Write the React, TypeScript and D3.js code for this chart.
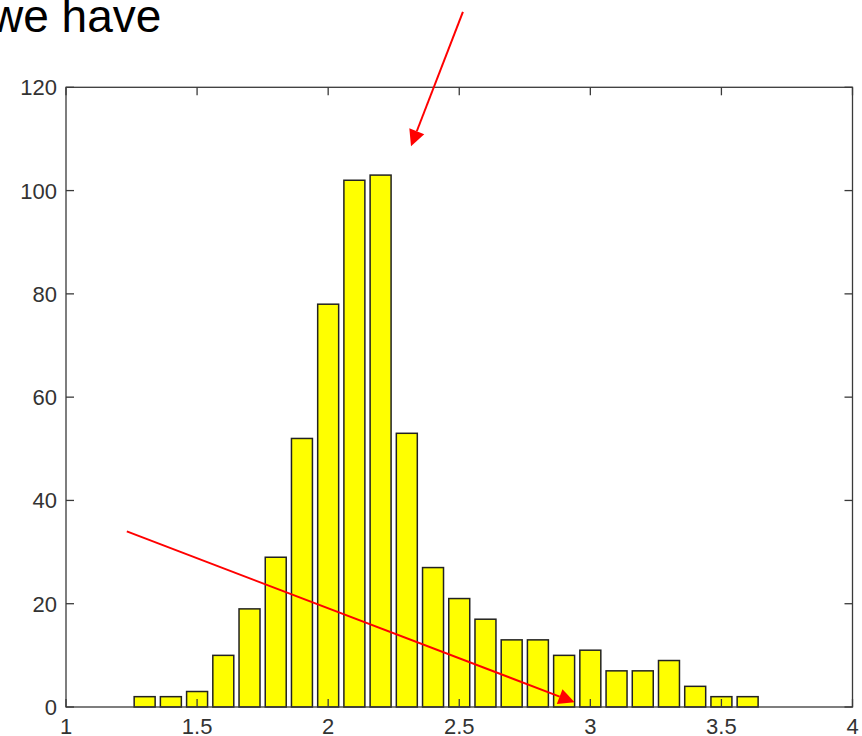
import React from "react";
import * as d3 from "d3";

// ---- data ----
const binCenters = [1.3, 1.4, 1.5, 1.6, 1.7, 1.8, 1.9, 2.0, 2.1, 2.2, 2.3, 2.4, 2.5, 2.6, 2.7, 2.8, 2.9, 3.0, 3.1, 3.2, 3.3, 3.4, 3.5, 3.6];
const counts = [2, 2, 3, 10, 19, 29, 52, 78, 102, 103, 53, 27, 21, 17, 13, 13, 10, 11, 7, 7, 9, 4, 2, 2];
const xTicks = [1, 1.5, 2, 2.5, 3, 3.5, 4];
const yTicks = [0, 20, 40, 60, 80, 100, 120];
const titleText = "we have";
// arrows in data coordinates: [x1, y1, x2(tip), y2(tip)]
const arrowStarts = [
  [2.514, 134.6],
  [1.232, 34.0],
];
const arrowTips = [
  [2.316, 108.6],
  [2.94, 0.9],
];

const W = 862;
const H = 736;
const left = 66;
const right = 852.5;
const top = 87.3;
const bottom = 707;
const binWidth = 0.1;
const barFrac = 0.8;

export default function App() {
  const x = d3.scaleLinear().domain([1, 4]).range([left, right]);
  const y = d3.scaleLinear().domain([0, 120]).range([bottom, top]);
  const tickLen = 8;
  const axisColor = "#3a3a3a";
  const font = "'Liberation Sans', Arial, Helvetica, sans-serif";

  const arrows = arrowStarts.map((s, i) => {
    const x1 = x(s[0]);
    const y1 = y(s[1]);
    const x2 = x(arrowTips[i][0]);
    const y2 = y(arrowTips[i][1]);
    const ang = Math.atan2(y2 - y1, x2 - x1);
    const hl = 16;
    const hw = 8;
    const bx = x2 - hl * Math.cos(ang);
    const by = y2 - hl * Math.sin(ang);
    const px = -Math.sin(ang) * hw;
    const py = Math.cos(ang) * hw;
    return { x1, y1, bx, by, x2, y2, pts: `${x2},${y2} ${bx + px},${by + py} ${bx - px},${by - py}` };
  });

  return (
    <svg
      width={W}
      height={H}
      style={{ position: "absolute", left: 0, top: 0, background: "#fff" }}
    >
      <rect x={0} y={0} width={W} height={H} fill="#fff" />
      <text x={-10} y={32} fontFamily={font} fontSize={46} fill="#000">
        {titleText}
      </text>

      {/* bars */}
      {binCenters.map((c, i) => (
        <rect
          key={i}
          x={x(c - (binWidth * barFrac) / 2)}
          y={y(counts[i])}
          width={x(c + (binWidth * barFrac) / 2) - x(c - (binWidth * barFrac) / 2)}
          height={y(0) - y(counts[i])}
          fill="#ffff00"
          stroke="#222"
          strokeWidth={1.5}
        />
      ))}

      {/* box */}
      <rect
        x={left}
        y={top}
        width={right - left}
        height={bottom - top}
        fill="none"
        stroke={axisColor}
        strokeWidth={1.3}
      />

      {/* x ticks */}
      {xTicks.map((t) => (
        <g key={"x" + t}>
          <line x1={x(t)} x2={x(t)} y1={bottom} y2={bottom - tickLen} stroke={axisColor} strokeWidth={1.3} />
          <line x1={x(t)} x2={x(t)} y1={top} y2={top + tickLen} stroke={axisColor} strokeWidth={1.3} />
          <text
            x={x(t)}
            y={734}
            textAnchor="middle"
            fontFamily={font}
            fontSize={22}
            fill="#333"
          >
            {String(t)}
          </text>
        </g>
      ))}

      {/* y ticks */}
      {yTicks.map((t) => (
        <g key={"y" + t}>
          <line x1={left} x2={left + tickLen} y1={y(t)} y2={y(t)} stroke={axisColor} strokeWidth={1.3} />
          <line x1={right} x2={right - tickLen} y1={y(t)} y2={y(t)} stroke={axisColor} strokeWidth={1.3} />
          <text
            x={57}
            y={y(t)}
            dy="0.36em"
            textAnchor="end"
            fontFamily={font}
            fontSize={22}
            fill="#333"
          >
            {String(t)}
          </text>
        </g>
      ))}

      {/* arrows */}
      {arrows.map((a, i) => (
        <g key={"a" + i}>
          <line x1={a.x1} y1={a.y1} x2={a.bx} y2={a.by} stroke="#ff0000" strokeWidth={2} />
          <polygon points={a.pts} fill="#ff0000" />
        </g>
      ))}
    </svg>
  );
}
